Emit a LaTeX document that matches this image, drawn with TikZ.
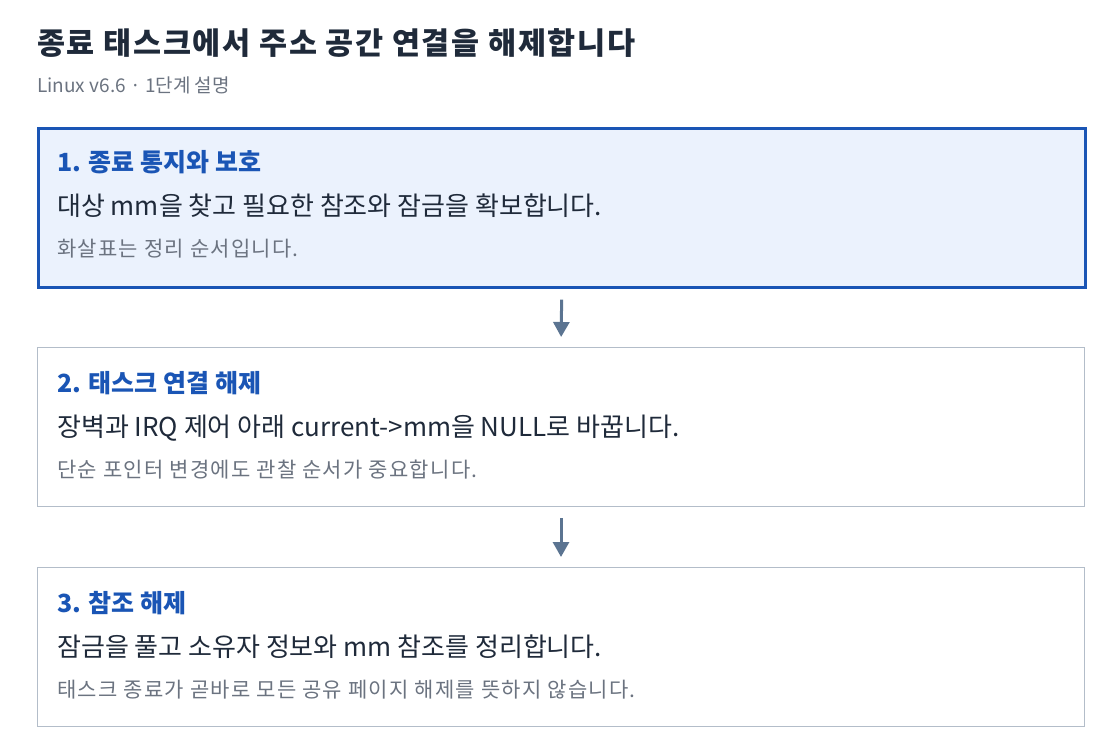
\documentclass[tikz,border=0pt]{standalone}
\usepackage{fontspec}
\setmainfont{Noto Sans CJK KR}
\usetikzlibrary{positioning, arrows.meta}
\definecolor{ink}{HTML}{1F2A3A}
\definecolor{headblue}{HTML}{1A55B5}
\definecolor{notegray}{HTML}{6B7380}
\definecolor{edgegray}{HTML}{B3BDC9}
\definecolor{arrowgray}{HTML}{5B7491}
\definecolor{paleblue}{HTML}{EBF2FD}

\begin{document}
\begin{tikzpicture}[x=1pt, y=-1pt, >={Triangle[width=16pt,length=15pt]},
  box/.style={draw=edgegray, line width=1pt, fill=white, minimum width=1047pt, minimum height=159pt, inner sep=0pt, anchor=north west},
  hot/.style={box, draw=headblue, line width=2.6pt, fill=paleblue},
  head/.style={anchor=base west, inner sep=0pt, text=headblue, font=\fontsize{25}{28}\selectfont\bfseries},
  body/.style={anchor=base west, inner sep=0pt, text=ink, font=\fontsize{26}{30}\selectfont},
  note/.style={anchor=base west, inner sep=0pt, text=notegray, font=\fontsize{21}{24}\selectfont\addfontfeatures{LetterSpace=6}},
  flow/.style={->, arrowgray, line width=3pt, shorten <=11pt, shorten >=10pt}]
\useasboundingbox (0,0) rectangle (1120,754);
\node[anchor=base west, inner sep=0pt, text=ink, font=\fontsize{30.5}{34}\selectfont\bfseries\addfontfeatures{LetterSpace=5.5}] (title) at (37,55) {종료 태스크에서 주소 공간 연결을 해제합니다};
\node[anchor=base west, inner sep=0pt, text=notegray, font=\fontsize{19}{22}\selectfont] (sub) at (37,93) {Linux v6.6 · 1단계 설명};

\node[hot] (b1) at (37,127) {};
\node[head] (h1) at (57,172) {1. 종료 통지와 보호};
\node[body] (t1) at (57,216) {대상 mm을 찾고 필요한 참조와 잠금을 확보합니다.};
\node[note] (n1) at (57,257) {화살표는 정리 순서입니다.};

\node[box] (b2) at (37,347) {};
\node[head] (h2) at (57,392) {2. 태스크 연결 해제};
\node[body] (t2) at (57,436) {장벽과 IRQ 제어 아래 current->mm을 NULL로 바꿉니다.};
\node[note] (n2) at (57,477) {단순 포인터 변경에도 관찰 순서가 중요합니다.};

\node[box] (b3) at (37,567) {};
\node[head] (h3) at (57,612) {3. 참조 해제};
\node[body] (t3) at (57,656) {잠금을 풀고 소유자 정보와 mm 참조를 정리합니다.};
\node[note] (n3) at (57,697) {태스크 종료가 곧바로 모든 공유 페이지 해제를 뜻하지 않습니다.};

\draw[flow] (b1.south) -- (b2.north);
\draw[flow] (b2.south) -- (b3.north);
\end{tikzpicture}
\end{document}
